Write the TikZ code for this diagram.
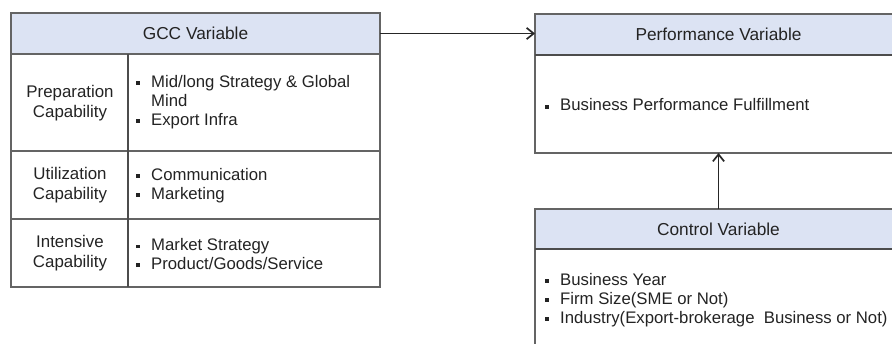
\documentclass[tikz,border=0pt]{standalone}
\usepackage{fontspec}
\setmainfont{Liberation Sans}
\usepackage{xcolor}
\usetikzlibrary{positioning}
\usetikzlibrary{arrows.meta}
\definecolor{headblue}{RGB}{220,227,243}
\definecolor{boxline}{RGB}{100,100,100}
\definecolor{txtgray}{RGB}{35,35,35}
\newcommand{\sqb}{\makebox[10.6pt][l]{\rule[0.28ex]{2.5pt}{2.5pt}}}
\newcommand{\cnt}{\hspace*{10.6pt}}
\tikzset{
  head/.style={draw=boxline,fill=headblue,line width=1pt,inner sep=0pt,outer sep=0pt,
    anchor=north west,text=txtgray,font=\fontsize{12.3}{14}\selectfont},
  body/.style={draw=boxline,line width=1pt,inner sep=0pt,outer sep=0pt,anchor=north west},
  lbl/.style={align=center,text=txtgray,inner sep=0pt,font=\fontsize{12}{14.2}\selectfont},
  lst/.style={align=left,anchor=west,text=txtgray,inner sep=0pt,font=\fontsize{11.9}{13.5}\selectfont},
  link/.style={-{Straight Barb[length=5pt,width=8pt,line width=1.2pt]},line width=1.3pt,black!85},
}
\begin{document}
\begin{tikzpicture}[x=0.025cm,y=-0.025cm]
\useasboundingbox (0,0) rectangle (892,343);
\clip (0,0) rectangle (892,343);
% left table
\node[head,minimum width=369*0.025cm,minimum height=41*0.025cm] (gcc) at (11,13) {GCC Variable};
\node[body,minimum width=369*0.025cm,minimum height=233*0.025cm] (gccbody) at (11,54) {};
\draw[boxline,line width=1pt] (11,151)--(380,151);
\draw[boxline,line width=1pt] (11,219)--(380,219);
\draw[black!70,line width=1.4pt] (128,54)--(128,287);
\node[lbl] (prep) at (70,103) {Preparation\\Capability};
\node[lbl] (util) at (70,185) {Utilization\\Capability};
\node[lbl] (inten) at (70,253) {Intensive\\Capability};
\node[lst] (preplist) at (136,102) {\sqb Mid/long Strategy \& Global\\\cnt Mind\\\sqb Export Infra};
\node[lst] (utillist) at (136,185.5) {\sqb Communication\\\sqb Marketing};
\node[lst] (intenlist) at (136,254) {\sqb Market Strategy\\\sqb Product/Goods/Service};
% right boxes
\node[head,minimum width=367*0.025cm,minimum height=41*0.025cm] (perf) at (535,14) {Performance Variable};
\node[body,minimum width=367*0.025cm,minimum height=98*0.025cm] (perfbody) at (535,55) {};
\draw[black!70,line width=1.4pt] (perfbody.north west)--(perfbody.north east);
\node[lst] (perflist) at (545,105) {\sqb Business Performance Fulfillment};
\node[head,minimum width=367*0.025cm,minimum height=40*0.025cm] (ctrl) at (535,209) {Control Variable};
\node[body,minimum width=367*0.025cm,minimum height=100*0.025cm] (ctrlbody) at (535,249) {};
\draw[black!70,line width=1.4pt] (ctrlbody.north west)--(ctrlbody.north east);
\node[lst] (ctrllist) at (545,300) {\sqb Business Year\\\sqb Firm Size(SME or Not)\\\sqb Industry(Export-brokerage\ \ Business or Not)};
% links
\draw[link] (gcc.east) -- (gcc.east -| perf.west);
\draw[link] (ctrl.north) -- (perfbody.south);
\end{tikzpicture}
\end{document}
